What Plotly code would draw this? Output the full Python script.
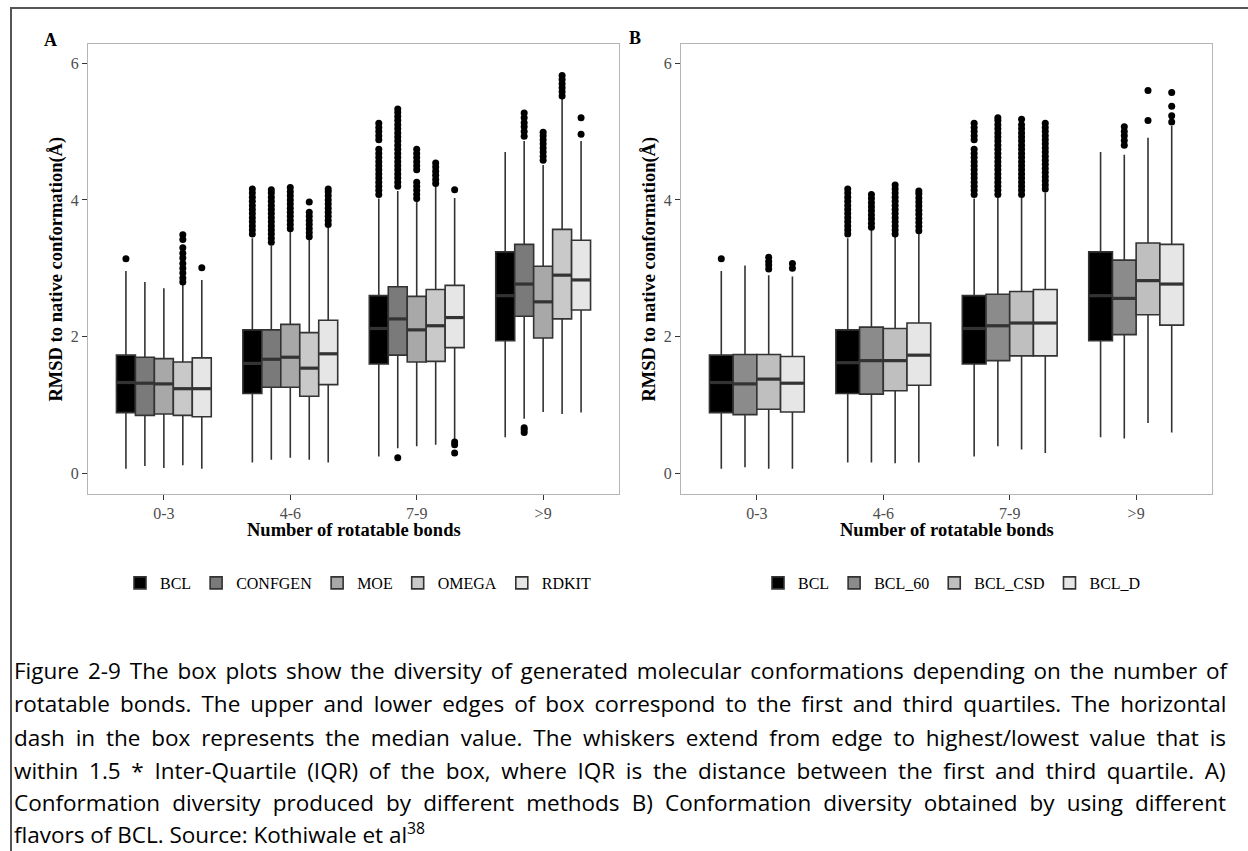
import plotly.graph_objects as go

W, H = 1248, 851

# ---------------- data ----------------
CATEGORIES = ["0-3", "4-6", "7-9", ">9"]

SERIES_A = ["BCL", "CONFGEN", "MOE", "OMEGA", "RDKIT"]
COLORS_A = ["#000000", "#7A7A7A", "#A8A8A8", "#C9C9C9", "#E6E6E6"]
Q1_A = {"BCL": [0.89, 1.17, 1.60, 1.94], "CONFGEN": [0.85, 1.26, 1.73, 2.30],
        "MOE": [0.87, 1.26, 1.63, 1.98], "OMEGA": [0.85, 1.13, 1.64, 2.26],
        "RDKIT": [0.83, 1.30, 1.84, 2.39]}
MED_A = {"BCL": [1.33, 1.61, 2.12, 2.60], "CONFGEN": [1.32, 1.67, 2.26, 2.77],
         "MOE": [1.31, 1.70, 2.10, 2.51], "OMEGA": [1.24, 1.54, 2.16, 2.90],
         "RDKIT": [1.24, 1.75, 2.28, 2.83]}
Q3_A = {"BCL": [1.73, 2.10, 2.60, 3.24], "CONFGEN": [1.70, 2.10, 2.73, 3.35],
        "MOE": [1.68, 2.18, 2.59, 3.03], "OMEGA": [1.63, 2.06, 2.69, 3.57],
        "RDKIT": [1.69, 2.24, 2.75, 3.41]}
LO_A = {"BCL": [0.07, 0.16, 0.25, 0.53], "CONFGEN": [0.11, 0.20, 0.37, 0.80],
        "MOE": [0.08, 0.23, 0.40, 0.90], "OMEGA": [0.12, 0.20, 0.42, 0.87],
        "RDKIT": [0.07, 0.16, 0.50, 0.89]}
HI_A = {"BCL": [2.96, 3.44, 4.02, 4.70], "CONFGEN": [2.80, 3.33, 4.13, 4.86],
        "MOE": [2.71, 3.55, 3.98, 4.51], "OMEGA": [2.76, 3.42, 4.20, 5.50],
        "RDKIT": [2.83, 3.61, 4.03, 4.86]}
OUT_A = {
    "BCL": [[3.14],
            [3.50, 3.56, 3.62, 3.68, 3.74, 3.80, 3.86, 3.92, 3.98, 4.04, 4.10, 4.16],
            [4.08, 4.14, 4.20, 4.26, 4.32, 4.38, 4.44, 4.50, 4.56, 4.62, 4.68, 4.74,
             4.88, 4.94, 5.00, 5.06, 5.12],
            []],
    "CONFGEN": [[],
                [3.38, 3.44, 3.50, 3.56, 3.62, 3.68, 3.74, 3.80, 3.86, 3.92, 3.98, 4.04, 4.10, 4.15],
                [0.23, 4.20, 4.26, 4.32, 4.38, 4.44, 4.50, 4.56, 4.62, 4.68, 4.74, 4.80, 4.86,
                 4.92, 4.98, 5.04, 5.10, 5.16, 5.22, 5.28, 5.33],
                [0.60, 0.64, 0.67, 4.93, 5.00, 5.07, 5.13, 5.20, 5.27]],
    "MOE": [[],
            [3.58, 3.64, 3.70, 3.76, 3.82, 3.88, 3.94, 4.00, 4.06, 4.12, 4.18],
            [4.02, 4.08, 4.14, 4.20, 4.26, 4.44, 4.50, 4.56, 4.62, 4.68, 4.74],
            [4.58, 4.64, 4.70, 4.76, 4.82, 4.88, 4.94, 4.99]],
    "OMEGA": [[2.80, 2.86, 2.93, 3.00, 3.07, 3.15, 3.22, 3.30, 3.42, 3.49],
              [3.46, 3.52, 3.58, 3.64, 3.70, 3.76, 3.82, 3.97],
              [4.24, 4.30, 4.36, 4.42, 4.48, 4.54],
              [5.52, 5.58, 5.64, 5.70, 5.76, 5.82]],
    "RDKIT": [[3.01],
              [3.64, 3.70, 3.76, 3.82, 3.88, 3.94, 4.00, 4.06, 4.12, 4.16],
              [0.30, 0.42, 0.46, 4.15],
              [4.96, 5.20]],
}

SERIES_B = ["BCL", "BCL_60", "BCL_CSD", "BCL_D"]
COLORS_B = ["#000000", "#8B8B8B", "#BFBFBF", "#E6E6E6"]
Q1_B = {"BCL": [0.89, 1.17, 1.60, 1.94], "BCL_60": [0.86, 1.16, 1.65, 2.03],
        "BCL_CSD": [0.94, 1.21, 1.72, 2.32], "BCL_D": [0.90, 1.29, 1.72, 2.17]}
MED_B = {"BCL": [1.33, 1.62, 2.12, 2.60], "BCL_60": [1.31, 1.65, 2.16, 2.56],
         "BCL_CSD": [1.38, 1.65, 2.20, 2.82], "BCL_D": [1.32, 1.73, 2.20, 2.77]}
Q3_B = {"BCL": [1.73, 2.10, 2.60, 3.24], "BCL_60": [1.74, 2.14, 2.62, 3.12],
        "BCL_CSD": [1.74, 2.12, 2.66, 3.37], "BCL_D": [1.71, 2.20, 2.69, 3.35]}
LO_B = {"BCL": [0.07, 0.16, 0.25, 0.53], "BCL_60": [0.09, 0.16, 0.40, 0.51],
        "BCL_CSD": [0.07, 0.15, 0.35, 0.74], "BCL_D": [0.07, 0.16, 0.30, 0.60]}
HI_B = {"BCL": [2.96, 3.44, 4.02, 4.70], "BCL_60": [3.04, 3.57, 4.03, 4.66],
        "BCL_CSD": [2.90, 3.46, 4.03, 4.91], "BCL_D": [2.88, 3.51, 4.11, 5.08]}
OUT_B = {
    "BCL": OUT_A["BCL"],
    "BCL_60": [[],
               [3.60, 3.66, 3.72, 3.78, 3.84, 3.90, 3.96, 4.02, 4.08],
               [4.08, 4.14, 4.20, 4.26, 4.32, 4.38, 4.44, 4.50, 4.56, 4.62, 4.68, 4.74,
                4.80, 4.86, 4.92, 4.98, 5.04, 5.10, 5.16, 5.20],
               [4.80, 4.87, 4.94, 5.00, 5.07]],
    "BCL_CSD": [[2.99, 3.05, 3.10, 3.16],
                [3.50, 3.56, 3.62, 3.68, 3.74, 3.80, 3.86, 3.92, 3.98, 4.04, 4.10, 4.16, 4.22],
                [4.08, 4.14, 4.20, 4.26, 4.32, 4.38, 4.44, 4.50, 4.56, 4.62, 4.68, 4.74,
                 4.80, 4.86, 4.92, 4.98, 5.04, 5.10, 5.18],
                [5.16, 5.60]],
    "BCL_D": [[3.00, 3.07],
              [3.55, 3.61, 3.67, 3.73, 3.79, 3.85, 3.91, 3.97, 4.03, 4.09, 4.13],
              [4.16, 4.22, 4.28, 4.34, 4.40, 4.46, 4.52, 4.58, 4.64, 4.70, 4.76, 4.82,
               4.88, 4.94, 5.00, 5.06, 5.12],
              [5.14, 5.23, 5.37, 5.57]],
}

Y_TICKS = [0, 2, 4, 6]
X_TITLE = "Number of rotatable bonds"
Y_TITLE = "RMSD to native conformation(Å)"

CAPTION = [
    "Figure 2-9 The box plots show the diversity of generated molecular conformations depending on the number of",
    "rotatable bonds. The upper and lower edges of box correspond to the first and third quartiles. The horizontal",
    "dash in the box represents the median value. The whiskers extend from edge to highest/lowest value that is",
    "within 1.5 * Inter-Quartile (IQR) of the box, where IQR is the distance between the first and third quartile. A)",
    "Conformation diversity produced by different methods B) Conformation diversity obtained by using different",
    "flavors of BCL. Source: Kothiwale et al<sup>38</sup>",
]
# extra word spacing (px) to imitate the justified paragraph
CAPTION_WORD_SPACING = [3.0, 4.2, 5.0, 4.8, 6.3, 0]

# ---------------- figure ----------------
SERIF = "Liberation Serif"
DODGE = 0.75
fig = go.Figure()


def add_panel(series, colors, q1, med, q3, lo, hi, out, xa, ya, leg):
    n = len(series)
    bw = DODGE / n
    base = list(range(1, len(CATEGORIES) + 1))
    for j, s in enumerate(series):
        off = (j - (n - 1) / 2) * bw
        xs = [b + off for b in base]
        fig.add_trace(go.Box(
            x=xs, q1=q1[s], median=med[s], q3=q3[s],
            lowerfence=lo[s], upperfence=hi[s],
            width=bw, whiskerwidth=0, boxpoints=False,
            fillcolor=colors[j], line=dict(color="#333333", width=1.6),
            name=s, legend=leg, xaxis=xa, yaxis=ya, hoverinfo="skip",
        ))
        # thicker median dash, as in the original
        mx, my = [], []
        for k, m in enumerate(med[s]):
            mx += [xs[k] - bw / 2 + 0.004, xs[k] + bw / 2 - 0.004, None]
            my += [m, m, None]
        fig.add_trace(go.Scatter(
            x=mx, y=my, mode="lines", showlegend=False,
            line=dict(color="#333333", width=3.2), xaxis=xa, yaxis=ya,
            hoverinfo="skip",
        ))
        ox, oy = [], []
        for k, vals in enumerate(out[s]):
            for v in vals:
                ox.append(xs[k])
                oy.append(v)
        fig.add_trace(go.Scatter(
            x=ox, y=oy, mode="markers", showlegend=False,
            marker=dict(color="black", size=7), xaxis=xa, yaxis=ya,
            hoverinfo="skip",
        ))


add_panel(SERIES_A, COLORS_A, Q1_A, MED_A, Q3_A, LO_A, HI_A, OUT_A, "x", "y", "legend")
add_panel(SERIES_B, COLORS_B, Q1_B, MED_B, Q3_B, LO_B, HI_B, OUT_B, "x2", "y2", "legend2")

# panel geometry in pixels
PA = dict(l=88, r=619)
PB = dict(l=681, r=1212)
TOP, BOT = 44, 494


def px(x):
    return x / W


def py(y):
    return 1 - y / H


axis_common = dict(
    showgrid=False, zeroline=False, showline=True, mirror=True,
    linecolor="#b5b5b5", linewidth=1, ticks="outside", ticklen=5,
    tickcolor="#333333", tickwidth=1,
    tickfont=dict(family=SERIF, size=16, color="#4d4d4d"),
)

fig.update_layout(
    width=W, height=H, margin=dict(l=0, r=0, t=0, b=0),
    paper_bgcolor="white", plot_bgcolor="white", boxmode="overlay",
    xaxis=dict(domain=[px(PA["l"]), px(PA["r"])], range=[0.4, 4.6],
               tickvals=[1, 2, 3, 4], ticktext=CATEGORIES, anchor="y", **axis_common),
    yaxis=dict(domain=[py(BOT), py(TOP)], range=[-0.30, 6.28],
               tickvals=Y_TICKS, anchor="x", **axis_common),
    xaxis2=dict(domain=[px(PB["l"]), px(PB["r"])], range=[0.4, 4.6],
                tickvals=[1, 2, 3, 4], ticktext=CATEGORIES, anchor="y2", **axis_common),
    yaxis2=dict(domain=[py(BOT), py(TOP)], range=[-0.30, 6.28],
                tickvals=Y_TICKS, anchor="x2", **axis_common),
    legend=dict(orientation="h", x=px(358), xanchor="center", y=py(583), yanchor="middle",
                font=dict(family=SERIF, size=16, color="black"),
                bgcolor="rgba(0,0,0,0)", itemwidth=30),
    legend2=dict(orientation="h", x=px(952), xanchor="center", y=py(583), yanchor="middle",
                 font=dict(family=SERIF, size=16, color="black"),
                 bgcolor="rgba(0,0,0,0)", itemwidth=30),
)

ann = []
title_font = dict(family=SERIF, size=18.5, color="black", weight="bold")
for p in (PA, PB):
    cx = (p["l"] + p["r"]) / 2
    ann.append(dict(text=X_TITLE, x=px(cx), y=py(530), xref="paper", yref="paper",
                    xanchor="center", yanchor="middle", showarrow=False, font=title_font))
ann.append(dict(text=Y_TITLE, x=px(55.5), y=py((TOP + BOT) / 2), xref="paper", yref="paper",
                xanchor="center", yanchor="middle", textangle=-90, showarrow=False, font=title_font))
ann.append(dict(text=Y_TITLE, x=px(648.5), y=py((TOP + BOT) / 2), xref="paper", yref="paper",
                xanchor="center", yanchor="middle", textangle=-90, showarrow=False, font=title_font))
ann.append(dict(text="A", x=px(50), y=py(40), xref="paper", yref="paper",
                xanchor="center", yanchor="middle", showarrow=False,
                font=dict(family=SERIF, size=18, color="black", weight="bold")))
ann.append(dict(text="B", x=px(635), y=py(38), xref="paper", yref="paper",
                xanchor="center", yanchor="middle", showarrow=False,
                font=dict(family=SERIF, size=18, color="black", weight="bold")))

cap_y = [670, 703, 737, 770, 802, 833]
for line, ws, yy in zip(CAPTION, CAPTION_WORD_SPACING, cap_y):
    txt = f'<span style="word-spacing:{ws}px">{line}</span>' if ws else line
    ann.append(dict(text=txt, x=px(12), y=py(yy), xref="paper", yref="paper",
                    xanchor="left", yanchor="middle", showarrow=False,
                    font=dict(family="Open Sans", size=22.5, color="black")))
fig.update_layout(annotations=ann)

# outer frame (left and top edges)
fig.add_shape(type="line", xref="paper", yref="paper", x0=px(11), x1=px(11), y0=0, y1=py(8),
              line=dict(color="#555555", width=2))
fig.add_shape(type="line", xref="paper", yref="paper", x0=px(10), x1=1, y0=py(8), y1=py(8),
              line=dict(color="#555555", width=2))

fig.write_html("out.html")
